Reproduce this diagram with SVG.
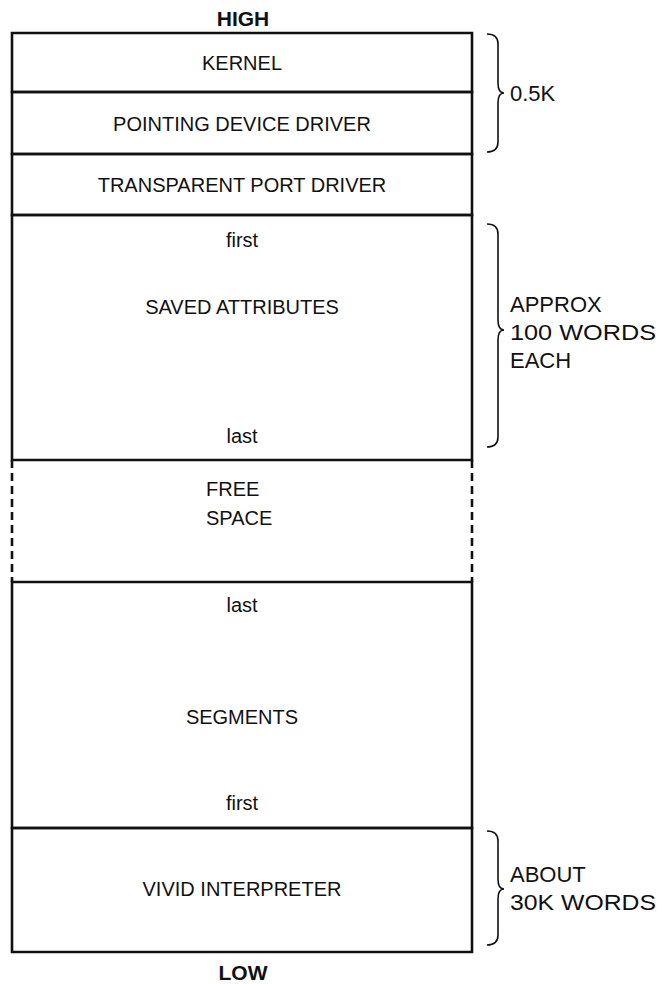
<svg xmlns="http://www.w3.org/2000/svg" width="667" height="984" viewBox="0 0 667 984">
<style>
text{font-family:"Liberation Sans",Arial,sans-serif;font-size:20px;fill:#111}
.c{text-anchor:middle}
.b{font-weight:bold;font-size:21px}
.r{font-size:22px}
.ln{stroke:#111;stroke-width:2.6;fill:none}
.d{stroke:#111;stroke-width:2.6;stroke-dasharray:8 5;fill:none}
.br{stroke:#111;stroke-width:1.6;fill:none}
</style>
<rect width="667" height="984" fill="#fff"/>
<text class="c b" x="243" y="26">HIGH</text>
<text class="c b" x="243" y="980">LOW</text>
<g id="kernel"><path class="ln" d="M12 33H472V92H12Z"/><text class="c" x="242" y="70">KERNEL</text></g>
<g id="pdd"><path class="ln" d="M12 92H472V154H12Z"/><text class="c" x="242" y="131">POINTING DEVICE DRIVER</text></g>
<g id="tpd"><path class="ln" d="M12 154H472V215H12Z"/><text class="c" x="242" y="192">TRANSPARENT PORT DRIVER</text></g>
<g id="saved"><path class="ln" d="M12 215H472V460H12Z"/><text class="c" x="242" y="247">first</text><text class="c" x="242" y="314">SAVED ATTRIBUTES</text><text class="c" x="242" y="443">last</text></g>
<g id="free"><path class="d" d="M12 460V582M472 460V582"/><text x="206" y="496">FREE</text><text x="206" y="525">SPACE</text></g>
<g id="segments"><path class="ln" d="M12 582H472V828H12Z"/><text class="c" x="242" y="612">last</text><text class="c" x="242" y="724">SEGMENTS</text><text class="c" x="242" y="810">first</text></g>
<g id="vivid"><path class="ln" d="M12 828H472V952H12Z"/><text class="c" x="242" y="896">VIVID INTERPRETER</text></g>
<g id="connectors">
<path class="br" d="M487 34Q498 34 498 44V83Q498 93 504 93Q498 93 498 103V142Q498 152 487 152"/>
<path class="br" d="M487 224Q498 224 498 234V320Q498 330 504 330Q498 330 498 340V437Q498 447 487 447"/>
<path class="br" d="M487 831Q498 831 498 841V879Q498 889 504 889Q498 889 498 899V935Q498 945 487 945"/>
</g>
<g id="labels">
<text class="r" x="510" y="101">0.5K</text>
<text class="r" x="510" y="312">APPROX</text>
<text class="r" x="510" y="340" textLength="146" lengthAdjust="spacingAndGlyphs">100 WORDS</text>
<text class="r" x="510" y="368">EACH</text>
<text class="r" x="510" y="882">ABOUT</text>
<text class="r" x="510" y="910" textLength="146" lengthAdjust="spacingAndGlyphs">30K WORDS</text>
</g>
</svg>
